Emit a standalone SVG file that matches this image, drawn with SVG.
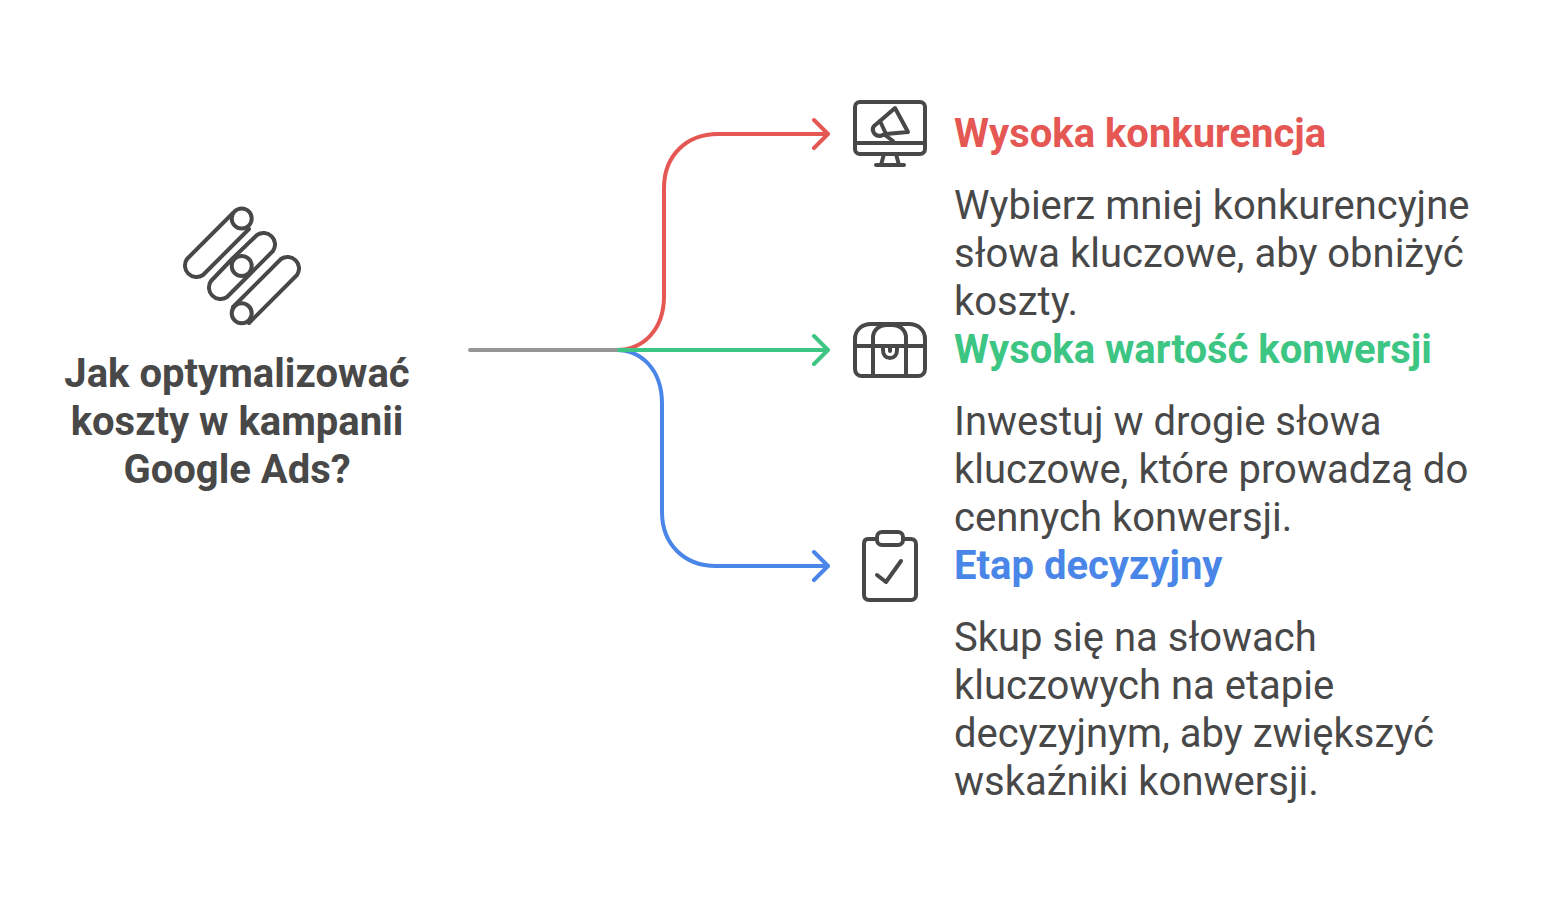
<svg xmlns="http://www.w3.org/2000/svg" width="1552" height="904" viewBox="0 0 1552 904">
<style>
text{font-family:Roboto,"Noto Sans",sans-serif;font-size:40px;fill:#484848}
.t{font-weight:700}
.m{text-anchor:middle}
.i{fill:none;stroke:#484848;stroke-width:4;stroke-linecap:round;stroke-linejoin:round}
.c{fill:none;stroke-width:4;stroke-linecap:round;stroke-linejoin:round}
</style>
<rect width="1552" height="904" fill="#fff"/>
<g id="connectors">
<path class="c" stroke="#e55753" d="M616 350C645 350 664 328 664 296V188C664 156 686 134 718 134H828M814 120L828 134L814 148"/>
<path class="c" stroke="#4a86e8" d="M616 350C640 350 662 368 662 404V512C662 544 684 566 716 566H828M814 552L828 566L814 580"/>
<path class="c" stroke="#3cc583" d="M616 350H828M814 336L828 350L814 364"/>
<path class="c" stroke="#969696" d="M470 350H616"/>
</g>
<g id="root">
<g class="i">
<path d="M233 213L187 259A11.500 11.500 0 0 0 203 275L249 229"/>
<circle cx="241.700" cy="218.500" r="10"/>
<path d="M233 258L257 235A11.500 11.500 0 0 1 273 251L250 274M233 258L211 281A11.500 11.500 0 0 0 227 297L250 274"/>
<circle cx="241.700" cy="266" r="10"/>
<path d="M233 307L281 259A11.500 11.500 0 0 1 297 275L249 323"/>
<circle cx="241.700" cy="313.300" r="10"/>
</g>
<text class="t m" x="237" y="387">Jak optymalizować</text>
<text class="t m" x="237" y="435">koszty w kampanii</text>
<text class="t m" x="237" y="483">Google Ads?</text>
</g>
<g id="node-1">
<g class="i">
<rect x="855" y="102" width="70" height="52" rx="5"/>
<path d="M855 143H925M884 154L881 165M896 154L899 165M876 165H904"/>
<path d="M895 108L908 132L886 134L880 121Z"/>
<path d="M880 121L874 126C871 130 874 136 880 136L886 134M885 135L893 141"/>
</g>
<text class="t" x="954" y="147" style="fill:#e55753">Wysoka konkurencja</text>
<text x="954" y="219">Wybierz mniej konkurencyjne</text>
<text x="954" y="267">słowa kluczowe, aby obniżyć</text>
<text x="954" y="315">koszty.</text>
</g>
<g id="node-2">
<g class="i">
<path d="M855 346V339C855 330 862 324 871 324H909C918 324 925 330 925 339V346"/>
<path d="M855 346V369C855 373 858 376 862 376H918C922 376 925 373 925 369V346H855M873 346V376M906 346V376M873 346V338C873 330 879 325 887 325H892C900 325 906 330 906 338V346"/>
<path d="M883 346V350C883 355 886 358 890 358C894 358 897 355 897 350V346"/>
<path d="M890 348V351"/>
</g>
<text class="t" x="954" y="363" style="fill:#3cc583">Wysoka wartość konwersji</text>
<text x="954" y="435">Inwestuj w drogie słowa</text>
<text x="954" y="483">kluczowe, które prowadzą do</text>
<text x="954" y="531">cennych konwersji.</text>
</g>
<g id="node-3">
<g class="i">
<path d="M877 539H868C865 539 864 541 864 544V595C864 598 866 600 869 600H911C914 600 916 598 916 595V544C916 541 914 539 911 539H903"/>
<rect x="877" y="532" width="26" height="13" rx="5"/>
<path d="M877 575L886 582L901 561"/>
</g>
<text class="t" x="954" y="579" style="fill:#4a86e8">Etap decyzyjny</text>
<text x="954" y="651">Skup się na słowach</text>
<text x="954" y="699">kluczowych na etapie</text>
<text x="954" y="747">decyzyjnym, aby zwiększyć</text>
<text x="954" y="795">wskaźniki konwersji.</text>
</g>
</svg>
